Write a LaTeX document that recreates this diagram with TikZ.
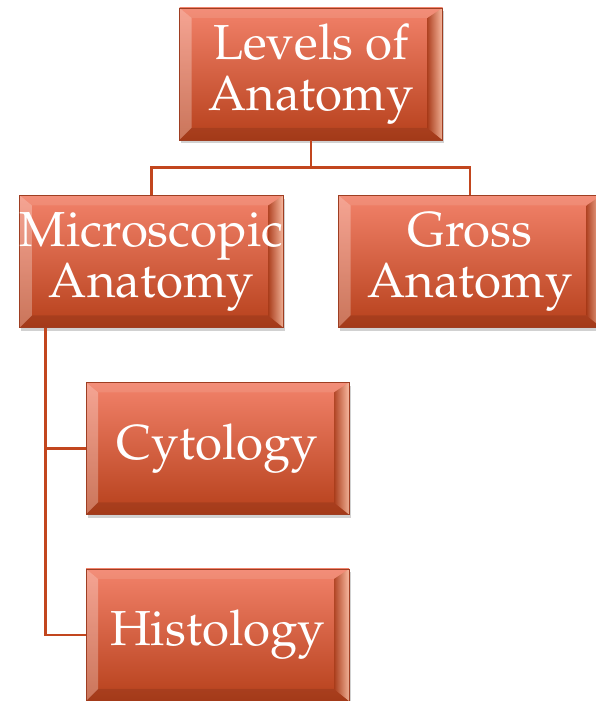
\documentclass[tikz,border=0pt]{standalone}
\usepackage[T1]{fontenc}
\usepackage{mathpazo}
\usepackage{tikz}
\usetikzlibrary{positioning,calc,shadows}
\usepackage{xcolor}
\definecolor{boxtop}{HTML}{F2826A}
\definecolor{boxbot}{HTML}{B6401B}
\definecolor{boxedge}{HTML}{9E3E22}
\definecolor{linkred}{HTML}{C2461E}
\definecolor{glint}{HTML}{FCC9B0}

\tikzset{
  levelbox/.style={rectangle, minimum width=5.26cm, minimum height=2.64cm,
    inner sep=0pt, align=center, text=white,
    font=\fontsize{28}{29}\selectfont,
    draw=boxedge, line width=0.5pt,
    top color=boxtop, bottom color=boxbot,
    drop shadow={shadow xshift=0.03cm, shadow yshift=-0.07cm, opacity=.3, fill=black!60},
    path picture={
      \path (path picture bounding box.south west) coordinate (bl)
            (path picture bounding box.north east) coordinate (tr);
      % bevel faces
      \fill[white, opacity=.10] (bl |- tr) -- (tr) -- ($(tr)+(-0.3,-0.2)$) -- ($(bl |- tr)+(0.24,-0.2)$) -- cycle;
      \fill[white, opacity=.28] (bl) -- ($(bl)+(0.24,0.24)$) -- ($(bl |- tr)+(0.24,-0.2)$) -- (bl |- tr) -- cycle;
      \fill[black, opacity=.10] (bl) -- (bl -| tr) -- ($(bl -| tr)+(-0.3,0.24)$) -- ($(bl)+(0.24,0.24)$) -- cycle;
      \shade[left color=boxbot!90!black, right color=glint, opacity=.8]
            (bl -| tr) -- (tr) -- ($(tr)+(-0.3,-0.2)$) -- ($(bl -| tr)+(-0.3,0.24)$) -- cycle;
    }},
  link/.style={draw=linkred, line width=1.7pt}
}

\begin{document}
\begin{tikzpicture}
  \useasboundingbox (0,0) rectangle (11.92,14.02);

  % boxes
  \node[levelbox] (levels) at (6.22,12.54) {Levels of\\Anatomy};
  \node[levelbox] (micro)  at (3.03,8.79)  {Microscopic\\Anatomy};
  \node[levelbox] (gross)  at (9.40,8.79)  {Gross\\Anatomy};
  \node[levelbox] (cyto)   at (4.35,5.05)  {Cytology};
  \node[levelbox] (histo)  at (4.35,1.32)  {Histology};

  % connectors
  \coordinate (fork) at ($(levels.south)+(0,-0.54)$);
  \draw[link] (levels.south) -- (fork) -| (micro.north);
  \draw[link] (fork) -| (gross.north);
  \coordinate (trunk) at ($(micro.south west)+(0.52,0)$);
  \draw[link] (trunk) |- (cyto.west);
  \draw[link] (trunk) |- (histo.west);
\end{tikzpicture}
\end{document}
